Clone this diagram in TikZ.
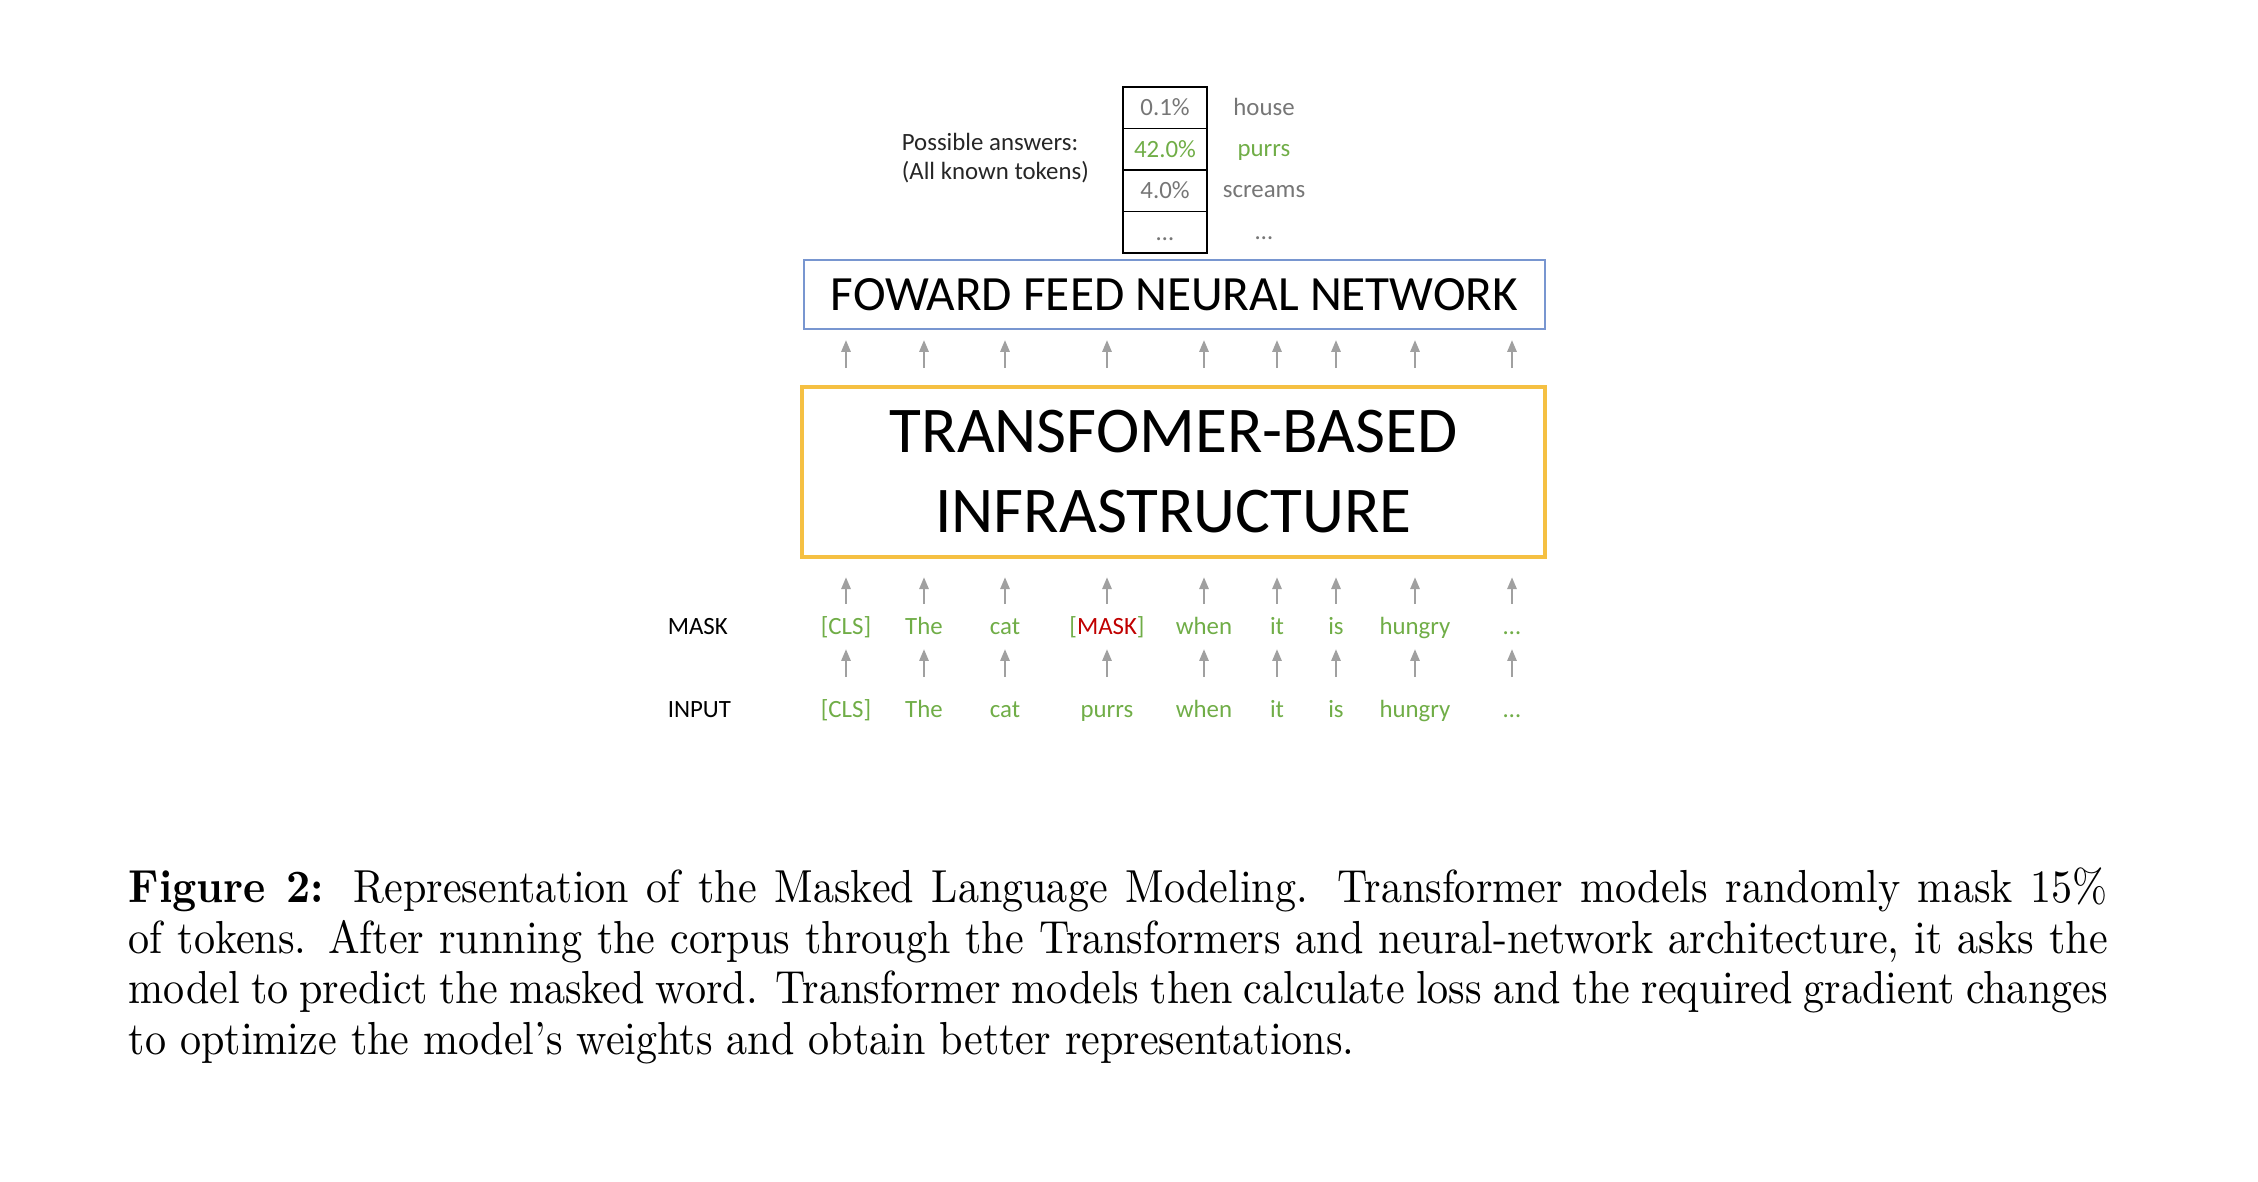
\documentclass[tikz,border=0pt]{standalone}
\usepackage{fontspec}
\usepackage{graphicx}
\usepackage{xcolor}
\usepackage{tikz}
\usetikzlibrary{arrows.meta,positioning}
\newfontfamily\calfont{Carlito}
\definecolor{TokGreen}{RGB}{112,173,71}
\definecolor{MaskRed}{RGB}{192,0,0}
\definecolor{ProbGray}{RGB}{118,118,118}
\definecolor{ArrGray}{RGB}{160,160,160}
\definecolor{NetLine}{RGB}{120,150,208}
\definecolor{TfLine}{RGB}{245,192,66}
\tikzset{
  nd_tok/.style={
    inner sep=0pt, anchor=base, text height=5pt, text depth=1.5pt,
    font=\calfont\fontsize{5.9}{7}\selectfont, text=TokGreen},
  nd_lbl/.style={
    inner sep=0pt, anchor=base west,
    font=\calfont\fontsize{5.9}{7}\selectfont},
  nd_cell/.style={
    rectangle, draw=black, line width=0.4pt, outer sep=0pt,
    minimum width=19.95pt, minimum height=9.86pt, inner sep=0pt,
    text height=3.7pt, text depth=0pt,
    font=\calfont\fontsize{5.9}{7}\selectfont, text=ProbGray},
  nd_ans/.style={
    inner sep=0pt, anchor=base,
    font=\calfont\fontsize{5.9}{7}\selectfont, text=ProbGray},
  nd_net/.style={
    rectangle, draw=NetLine, line width=0.45pt,
    minimum width=176pt, minimum height=16.4pt, inner sep=0pt,
    font=\calfont\fontsize{11.7}{14}\selectfont},
  nd_tf/.style={
    rectangle, draw=TfLine, line width=1pt,
    minimum width=176.5pt, minimum height=40.4pt, inner sep=0pt,
    align=center, font=\calfont\fontsize{15.5}{19}\selectfont},
  arr/.style={-{Triangle[length=2.8pt,width=2.2pt]},draw=ArrGray,line width=0.5pt},
}

\begin{document}
\begin{tikzpicture}[x=0.2375pt,y=-0.2375pt]
\useasboundingbox (0,0) rectangle (2258,1182);

% possible answers
\node[inner sep=0pt, anchor=north west, align=left, text=black!85,
  font=\calfont\fontsize{5.9}{6.9}\selectfont] (ans) at (901,132)
  {Possible answers:\\(All known tokens)};
\node[nd_cell] (c1) at (1165,107.75) {0.1\%};
\node[nd_cell, below=0pt of c1, text=TokGreen] (c2) {42.0\%};
\node[nd_cell, below=0pt of c2] (c3) {4.0\%};
\node[nd_cell, below=0pt of c3] (c4) {…};
\node[nd_ans] (w1) at (1264,115) {house};
\node[nd_ans, text=TokGreen] (w2) at (1264,156) {purrs};
\node[nd_ans] (w3) at (1264,197) {screams};
\node[nd_ans] (w4) at (1264,239) {…};

% boxes
\node[nd_net] (ffnn) at (1174.5,294.5) {FOWARD FEED NEURAL NETWORK};
\node[nd_tf] (tf) at (1173.5,472) {TRANSFOMER-BASED\\INFRASTRUCTURE};

% masked tokens
\node[nd_lbl] (lmask) at (667,634) {MASK};
\node[nd_tok] (m1) at (846,634) {[CLS]};
\node[nd_tok] (m2) at (924,634) {The};
\node[nd_tok] (m3) at (1005,634) {cat};
\node[nd_tok] (m4) at (1107,634) {[\textcolor{MaskRed}{MASK}]};
\node[nd_tok] (m5) at (1204,634) {when};
\node[nd_tok] (m6) at (1277,634) {it};
\node[nd_tok] (m7) at (1336,634) {is};
\node[nd_tok] (m8) at (1415,634) {hungry};
\node[nd_tok] (m9) at (1512,634) {…};

% input tokens
\node[nd_lbl] (linput) at (667,717) {INPUT};
\node[nd_tok] (i1) at (846,717) {[CLS]};
\node[nd_tok] (i2) at (924,717) {The};
\node[nd_tok] (i3) at (1005,717) {cat};
\node[nd_tok] (i4) at (1107,717) {purrs};
\node[nd_tok] (i5) at (1204,717) {when};
\node[nd_tok] (i6) at (1277,717) {it};
\node[nd_tok] (i7) at (1336,717) {is};
\node[nd_tok] (i8) at (1415,717) {hungry};
\node[nd_tok] (i9) at (1512,717) {…};

% arrows
\foreach \k in {1,...,9} {
  \draw[arr, shorten <=4.3pt, shorten >=1.9pt] (i\k.north) -- (m\k.south);
  \draw[arr, shorten <=1.9pt, shorten >=4.3pt] (m\k.north) -- (m\k |- tf.south);
  \draw[arr, shorten <=4pt, shorten >=2.4pt] (m\k |- tf.north) -- (m\k |- ffnn.south);
}

% caption
\node[inner sep=0pt, anchor=north west] (cap) at (128,867)
  {\scalebox{1}[1.1]{\parbox{470pt}{\fontsize{10}{10.9}\selectfont
  \textbf{Figure 2:}\hspace{7pt}Representation of the Masked Language Modeling.  Transformer models randomly mask 15\% of tokens.  After running the corpus through the Transformers and neural-network architecture, it asks the model to predict the masked word.  Transformer models then calculate loss and the required gradient changes to optimize the model's weights and obtain better representations.}}};
\end{tikzpicture}
\end{document}
